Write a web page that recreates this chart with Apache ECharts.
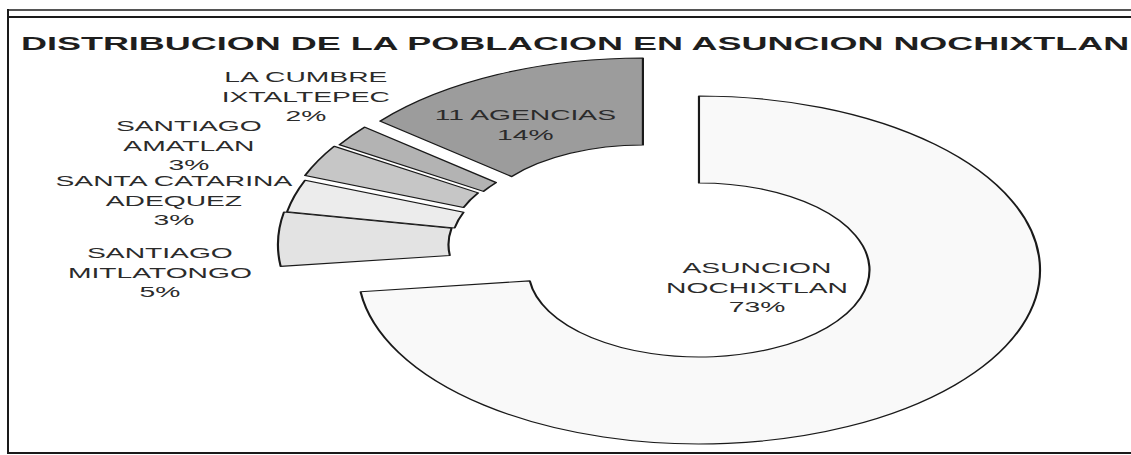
<!DOCTYPE html>
<html>
<head>
<meta charset="utf-8">
<script src="https://cdn.jsdelivr.net/npm/echarts@6/dist/echarts.min.js"></script>
<style>
  html, body { margin: 0; padding: 0; background: #fff; }
  #wrap { position: absolute; left: 0; top: 0; width: 1131px; height: 455px; overflow: hidden; }
  /* el grafico original esta estirado en horizontal: se dibuja angosto y se escala */
  #chart { position: absolute; left: 0; top: 0; width: 577px; height: 455px;
           transform: scaleX(1.9601); transform-origin: 0 0; }
  .line { position: absolute; background: #1a1a1a; }
</style>
</head>
<body>
<div id="wrap">
  <div class="line" style="left:7px;top:9px;width:1130px;height:2px;background:#555"></div>
  <div class="line" style="left:7px;top:16px;width:1130px;height:2px"></div>
  <div class="line" style="left:7px;top:9px;width:2px;height:445px"></div>
  <div class="line" style="left:7px;top:452px;width:1130px;height:2px"></div>
  <div id="chart"></div>
</div>
<script>
// datos
const categories = ['ASUNCION NOCHIXTLAN', 'SANTIAGO MITLATONGO', 'SANTA CATARINA ADEQUEZ',
  'SANTIAGO AMATLAN', 'LA CUMBRE IXTALTEPEC', '11 AGENCIAS']
const labelNames = ['ASUNCION\nNOCHIXTLAN', 'SANTIAGO\nMITLATONGO', 'SANTA CATARINA\nADEQUEZ',
  'SANTIAGO\nAMATLAN', 'LA CUMBRE\nIXTALTEPEC', '11 AGENCIAS']
const percents = [73, 5, 3, 3, 2, 14]

// estilo
const fills = ['#f9f9f9', '#e3e3e3', '#ececec', '#c6c6c6', '#b3b3b3', '#9c9c9c']
const baseCenter = [356.6, 270]
// desplazamiento (explode) de cada rebanada
const explode = [[0, 0], [-40.8, -25.4], [-39.2, -25.7], [-39.2, -30.5], [-36.5, -32], [-28.6, -38]]
// posicion de la etiqueta y ajuste fino desde donde la pone echarts
const labelPos = ['center', 'outside', 'outside', 'outside', 'outside', 'center']
const labelShift = [[29.6, 18], [-60.3, 33.9], [-61.6, 5.2], [-66, -14.5], [-23.3, -38.7], [-60, -107]]
const font = 'Liberation Sans, Arial, sans-serif'

const chart = echarts.init(document.getElementById('chart'), null, { renderer: 'svg' })

// una serie por rebanada para poder separar cada una con su propio centro
const series = categories.map((name, k) => ({
  type: 'pie',
  silent: true,
  animation: false,
  startAngle: 90,
  clockwise: true,
  avoidLabelOverlap: false,
  center: [baseCenter[0] + explode[k][0], baseCenter[1] + explode[k][1]],
  radius: [87, 174],
  labelLine: { show: false, length: 0, length2: 0 },
  // las etiquetas se tocan entre si, no ocultarlas
  labelLayout: { dx: labelShift[k][0], dy: labelShift[k][1], align: 'center', hideOverlap: false },
  data: categories.map((c, i) => {
    if (i !== k) {
      return {
        name: c,
        value: percents[i],
        itemStyle: { color: 'rgba(0,0,0,0)', borderWidth: 0 },
        label: { show: false },
        labelLine: { show: false }
      }
    }
    return {
      name: c,
      value: percents[i],
      itemStyle: { color: fills[i], borderColor: '#1a1a1a', borderWidth: 1.1 },
      label: {
        show: true,
        position: labelPos[i],
        distanceToLabelLine: 0,
        formatter: labelNames[i] + '\n' + percents[i] + '%',
        color: '#2b2b2b',
        fontFamily: font,
        fontSize: 14.4,
        lineHeight: 19.5,
        align: 'center'
      },
      labelLine: { show: false, length: 0, length2: 0 }
    }
  })
}))

chart.setOption({
  animation: false,
  title: {
    text: 'DISTRIBUCION DE LA POBLACION EN ASUNCION NOCHIXTLAN',
    left: 10.7,
    top: 35,
    padding: 0,
    textStyle: { fontFamily: font, fontWeight: 'bold', fontSize: 18.35, color: '#1e1e1e' }
  },
  series: series
})
</script>
</body>
</html>
